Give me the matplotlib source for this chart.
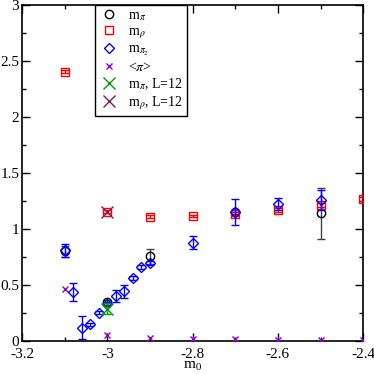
import matplotlib
matplotlib.use("Agg")
import matplotlib.pyplot as plt
from matplotlib.ticker import MultipleLocator

plt.rcParams['font.family'] = ['Liberation Serif', 'DejaVu Serif']
plt.rcParams['mathtext.fontset'] = 'stix'

# m_pi
mpi_x = [-3.1, -3.0, -2.9, -2.7, -2.5]
mpi_y = [0.80, 0.345, 0.756, 1.15, 1.14]
mpi_e = [0.05, 0.02, 0.065, 0.02, 0.225]

# m_rho
mrho_x = [-3.1, -3.0, -2.9, -2.8, -2.7, -2.6, -2.5, -2.4]
mrho_y = [2.405, 1.155, 1.11, 1.116, 1.134, 1.17, 1.214, 1.268]
mrho_e = [0.015, 0.015, 0.012, 0.012, 0.015, 0.015, 0.02, 0.015]

# m_pi2
mpi2_x = [-3.1, -3.08, -3.06, -3.04, -3.02, -3.0, -2.98, -2.96, -2.94, -2.92,
          -2.9, -2.8, -2.7, -2.6, -2.5]
mpi2_y = [0.81, 0.44, 0.12, 0.15, 0.255, 0.333, 0.40, 0.443, 0.563, 0.66,
          0.696, 0.878, 1.15, 1.226, 1.262]
mpi2_e = [0.06, 0.08, 0.10, 0.012, 0.012, 0.012, 0.055, 0.057, 0.015, 0.015,
          0.015, 0.06, 0.115, 0.055, 0.09]

# <pi>
pi_x = [-3.1, -3.0, -2.9, -2.8, -2.7, -2.6, -2.5, -2.4]
pi_y = [0.464, 0.057, 0.027, 0.018, 0.015, 0.012, 0.012, 0.009]
pi_e = [0.01, 0.015, 0.01, 0.03, 0.01, 0.03, 0.01, 0.01]

# L=12
mpiL_x = [-3.0]
mpiL_y = [0.29]
mpiL_e = [0.05]
mrhoL_x = [-3.0]
mrhoL_y = [1.155]
mrhoL_e = [0.01]

fig = plt.figure(figsize=(3.74, 3.74), dpi=100)
ax = fig.add_axes([0.059, 0.088, 0.912, 0.899])

cap = 3.2
lw = 1.0
series = [
    (mpi_x, mpi_y, mpi_e, 'o', 6, 'black', '#404040', cap, r'm$_\pi$', 3, True),
    (mrho_x, mrho_y, mrho_e, 's', 5.5, '#ff0000', '#ff0000', cap, r'm$_\rho$', 3, True),
    (mpi2_x, mpi2_y, mpi2_e, 'D', 4.8, '#0000ff', '#0000ff', cap, r'm$_{\pi_2}$', 4, True),
    (pi_x, pi_y, pi_e, 'x', 5, '#9400d3', '#9400d3', 0, r'<$\pi$>', 3, False),
    (mpiL_x, mpiL_y, mpiL_e, 'x', 9, '#00a000', '#00a000', cap, r'm$_\pi$, L=12', 5, False),
    (mrhoL_x, mrhoL_y, mrhoL_e, 'x', 9, '#8b1a5a', '#8b1a5a', 0, r'm$_\rho$, L=12', 5, False),
]
handles = []
for x, y, e, m, ms, mc, ec, cs, lab, z, hollow in series:
    ax.errorbar(x, y, yerr=e, fmt='none', ecolor=ec, elinewidth=lw,
                capsize=cs, capthick=lw, zorder=z)
    h, = ax.plot(x, y, linestyle='none', marker=m, ms=ms,
                 mfc='none' if hollow else mc, mec=mc, mew=lw, label=lab, zorder=z)
    handles.append(h)

ax.set_xlim(-3.2, -2.4)
ax.set_ylim(0, 3)
ax.xaxis.set_major_locator(MultipleLocator(0.2))
ax.xaxis.set_minor_locator(MultipleLocator(0.1))
ax.yaxis.set_major_locator(MultipleLocator(0.5))
ax.yaxis.set_minor_locator(MultipleLocator(0.25))
ax.tick_params(which='both', direction='in', top=True, right=True, labelsize=11, width=1)
ax.tick_params(which='major', length=6)
ax.tick_params(axis='x', which='major', pad=5)
ax.tick_params(axis='y', which='major', pad=2)
ax.tick_params(which='minor', length=3)
ax.xaxis.set_major_formatter(plt.FuncFormatter(lambda v, p: ('%g' % round(v, 2))))
ax.yaxis.set_major_formatter(plt.FuncFormatter(lambda v, p: ('%g' % round(v, 2))))
for s in ax.spines.values():
    s.set_linewidth(1.2)
ax.set_xlabel(r'm$_0$', fontsize=11, labelpad=-1)

leg = ax.legend(handles=handles, loc='upper left', bbox_to_anchor=(0.214, 1.0), fontsize=10,
                frameon=True, fancybox=False, edgecolor='black', framealpha=1,
                handlelength=1.4, handletextpad=0.7, labelspacing=0.17,
                borderpad=0.3, borderaxespad=0)
leg.get_frame().set_linewidth(1.0)

fig.savefig('out.png', dpi=100)
